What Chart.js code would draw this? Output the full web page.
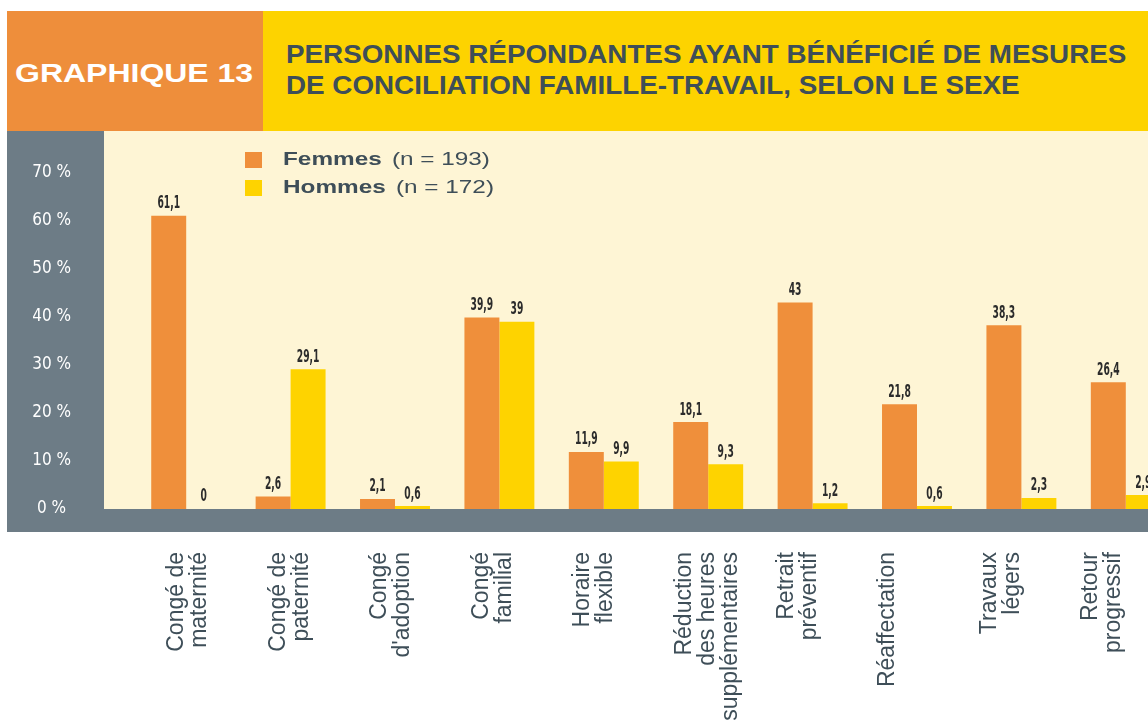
<!DOCTYPE html>
<html>
<head>
<meta charset="utf-8">
<script src="https://cdn.jsdelivr.net/npm/chart.js@4.4.1/dist/chart.umd.min.js"></script>
<style>
  html, body { margin:0; padding:0; width:1148px; height:726px; overflow:hidden; background:#ffffff; }
  .abs { position:absolute; }
  #hdrNum { left:7px; top:11px; width:256px; height:120px; background:#EE8E3B; }
  #hdrTitle { left:263px; top:11px; width:885px; height:120px; background:#FDD300; }
  #numTxt { left:15px; top:60px; font:bold 26px 'Liberation Sans', Arial, sans-serif; line-height:26px; color:#ffffff; white-space:nowrap; transform:scaleX(1.23); transform-origin:0 0; }
  #titleTxt { left:286px; top:39px; font:bold 25px 'Liberation Sans', Arial, sans-serif; line-height:31px; color:#3E4E58; white-space:nowrap; transform:scaleX(1.112); transform-origin:0 0; }
  #gpanel { left:7px; top:131px; width:97px; height:378px; background:#6D7C86; }
  #cream { left:104px; top:131px; width:1044px; height:378px; background:#FEF5D5; }
  #gbar { left:7px; top:509px; width:1141px; height:23px; background:#6D7C86; }
  #c { position:absolute; left:7px; top:131px; }
</style>
</head>
<body>
<div id="hdrNum" class="abs"></div>
<div id="hdrTitle" class="abs"></div>
<div id="numTxt" class="abs">GRAPHIQUE 13</div>
<div id="titleTxt" class="abs">PERSONNES RÉPONDANTES AYANT BÉNÉFICIÉ DE MESURES<br>DE CONCILIATION FAMILLE-TRAVAIL, SELON LE SEXE</div>
<div id="gpanel" class="abs"></div>
<div id="cream" class="abs"></div>
<div id="gbar" class="abs"></div>
<canvas id="c" width="1171" height="595"></canvas>
<script>
const categories = [
  ["Congé de", "maternité"],
  ["Congé de", "paternité"],
  ["Congé", "d'adoption"],
  ["Congé", "familial"],
  ["Horaire", "flexible"],
  ["Réduction", "des heures", "supplémentaires"],
  ["Retrait", "préventif"],
  ["Réaffectation"],
  ["Travaux", "légers"],
  ["Retour", "progressif"]
];
const seriesNames = ["Femmes", "Hommes"];
const legendNotes = ["(n = 193)", "(n = 172)"];
const femmes = [61.1, 2.6, 2.1, 39.9, 11.9, 18.1, 43, 21.8, 38.3, 26.4];
const hommes = [0, 29.1, 0.6, 39, 9.9, 9.3, 1.2, 0.6, 2.3, 2.9];
const yTicks = [0, 10, 20, 30, 40, 50, 60, 70];

const ORANGE = '#EF8F3B';
const YELLOW = '#FED300';
const DARK = '#3E4E58';

const fmt = v => String(v).replace('.', ',');

const valueLabels = {
  id: 'valueLabels',
  afterDatasetsDraw(chart) {
    const ctx = chart.ctx;
    chart.data.datasets.forEach((ds, i) => {
      const meta = chart.getDatasetMeta(i);
      meta.data.forEach((bar, j) => {
        ctx.save();
        ctx.translate(bar.x, bar.y - 12);
        ctx.scale(0.6, 1);
        ctx.font = "bold 17px 'Liberation Sans Narrow', 'DejaVu Sans Condensed', sans-serif";
        ctx.fillStyle = '#2B2B2B';
        ctx.textAlign = 'center';
        ctx.textBaseline = 'middle';
        ctx.fillText(fmt(ds.data[j]), 0, 0);
        ctx.restore();
      });
    });
  }
};

const customLegend = {
  id: 'customLegend',
  afterDraw(chart) {
    const ctx = chart.ctx;
    ctx.save();
    chart.data.datasets.forEach((ds, i) => {
      const y = 29 + i * 28;
      ctx.fillStyle = ds.backgroundColor;
      ctx.fillRect(238, y - 8, 17, 16);
      ctx.save();
      ctx.translate(276, y);
      ctx.scale(1.28, 1);
      ctx.textBaseline = 'middle';
      ctx.textAlign = 'left';
      ctx.fillStyle = DARK;
      ctx.font = "bold 19px 'Liberation Sans', Arial, sans-serif";
      ctx.fillText(ds.label, 0, 0);
      const w = ctx.measureText(ds.label).width;
      ctx.font = "19px 'Liberation Sans', Arial, sans-serif";
      ctx.fillText(legendNotes[i], w + 8, 0);
      ctx.restore();
    });
    ctx.restore();
  }
};

new Chart(document.getElementById('c'), {
  type: 'bar',
  data: {
    labels: categories,
    datasets: [
      { label: seriesNames[0], data: femmes, backgroundColor: ORANGE, categoryPercentage: 0.67, barPercentage: 1.0 },
      { label: seriesNames[1], data: hommes, backgroundColor: YELLOW, categoryPercentage: 0.67, barPercentage: 1.0 }
    ]
  },
  options: {
    responsive: false,
    animation: false,
    layout: { padding: 0 },
    plugins: { legend: { display: false }, tooltip: { enabled: false } },
    scales: {
      x: { display: false, offset: true },
      x2: {
        type: 'linear',
        position: 'bottom',
        offset: false,
        min: -0.42,
        max: 9.856,
        grid: { display: false, drawTicks: false, offset: false },
        border: { display: false },
        afterBuildTicks: s => { s.ticks = categories.map((_, i) => ({ value: i })); },
        afterFit: s => { s.height = 217; s.paddingLeft = 0; s.paddingRight = 0; },
        ticks: {
          autoSkip: false,
          minRotation: 90,
          maxRotation: 90,
          padding: 43,
          color: DARK,
          font: { family: "'Liberation Sans', Arial, sans-serif", size: 23, lineHeight: 1.0 },
          callback: v => categories[Math.round(v)]
        }
      },
      y: {
        min: 0,
        max: 78.75,
        grid: { display: false, drawTicks: false },
        border: { display: false },
        afterBuildTicks: s => { s.ticks = yTicks.map(v => ({ value: v })); },
        afterFit: s => { s.width = 127; s.paddingTop = 0; s.paddingBottom = 0; },
        ticks: {
          padding: 63,
          crossAlign: 'center',
          color: '#ffffff',
          font: { family: "'Liberation Sans Narrow', 'DejaVu Sans Condensed', sans-serif", size: 17 },
          callback: v => v + ' %'
        }
      }
    }
  },
  plugins: [valueLabels, customLegend]
});
</script>
</body>
</html>
